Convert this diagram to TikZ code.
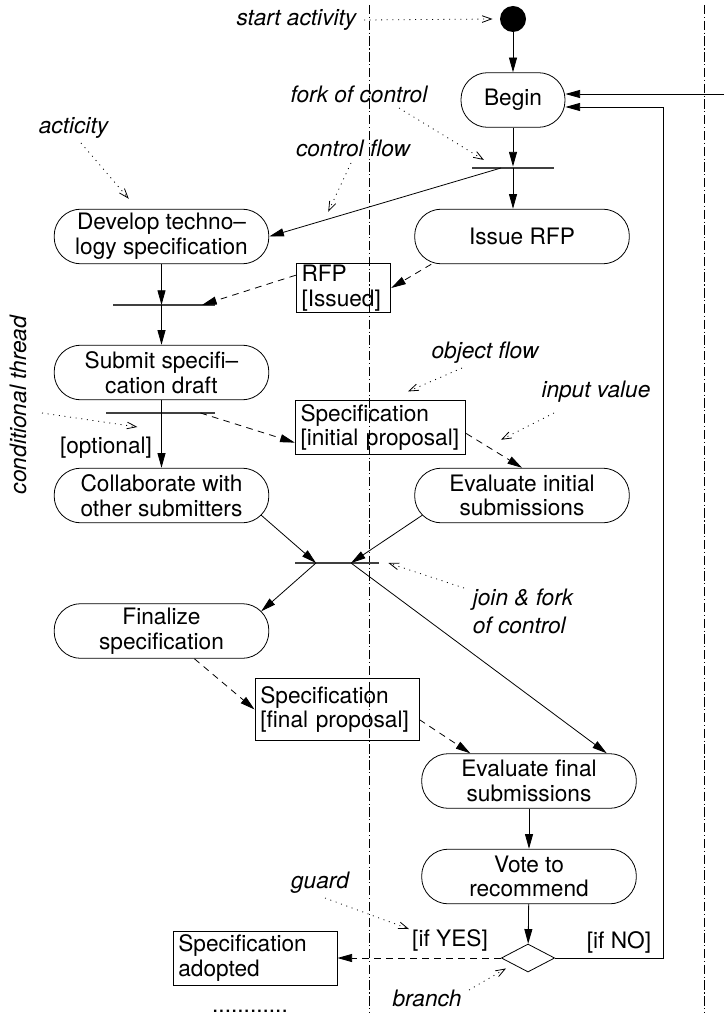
\documentclass[tikz,border=0pt]{standalone}
\usepackage{fontspec}
\setmainfont{TeX Gyre Heros}
\usetikzlibrary{shapes.geometric,arrows.meta,calc}

\begin{document}
\begin{tikzpicture}[x=0.75pt, y=-0.75pt, line width=0.6pt,
    font=\fontsize{17pt}{18.5pt}\selectfont,
    act/.style={draw, rounded corners=20pt, minimum width=161pt,
      minimum height=41pt, align=center, inner sep=0pt},
    obj/.style={draw, align=left, inner xsep=4pt, inner ysep=1pt},
    bar/.style={fill=black!75, minimum height=1.6pt, inner sep=0pt},
    note/.style={font=\fontsize{17pt}{21pt}\selectfont\itshape,
      inner sep=1pt},
    flow/.style={-{Triangle[length=11pt,width=6pt]}},
    objflow/.style={flow, dash pattern=on 5pt off 4pt},
    hint/.style={-{Straight Barb[length=7pt,width=5pt]},
      dash pattern=on 0.75pt off 3.5pt},
    lane/.style={line width=0.5pt, dash pattern=on 7pt off 2pt on 0.8pt off 2pt}]
  \useasboundingbox (0,0) rectangle (724,1019);
  % swimlanes
  \draw[lane] (369,5) -- (369,1012);
  \draw[lane] (704,5) -- (704,1012);
  % activities and objects
  \node[circle, fill, minimum size=19.5pt, inner sep=0pt] (start) at (513,19) {};
  \node[act, minimum width=78pt] (begin) at (513,100) {Begin};
  \node[bar, minimum width=61pt] (fork) at (513,168) {};
  \node[act] (develop) at (161.5,236.5) {Develop techno--\\logy specification};
  \node[act] (issue) at (522,236.5) {Issue RFP};
  \node[obj, text width=63pt, minimum height=36pt] (rfp) at (343.5,288)
    {RFP\\\mbox{[Issued]}};
  \node[bar, minimum width=76.5pt] (merge) at (164,305) {};
  \node[act] (submit) at (161.5,372.5) {Submit specifi--\\cation draft};
  \node[bar, minimum width=82pt] (cond) at (160.5,413) {};
  \node[obj, text width=120pt, minimum height=40pt] (spec1) at (380.5,427.5)
    {Specification\\\mbox{[initial proposal]}};
  \node[act] (collab) at (161.5,495.5) {Collaborate with\\other submitters};
  \node[act] (evalinit) at (522,495.5) {Evaluate initial\\submissions};
  \node[bar, minimum width=63pt] (sync) at (337,563) {};
  \node[act] (final) at (161.5,631) {Finalize\\specification};
  \node[obj, text width=115pt, minimum height=46pt] (spec2) at (337,709.5)
    {Specification\\\mbox{[final proposal]}};
  \node[act] (evalfinal) at (529,781) {Evaluate final\\submissions};
  \node[act] (vote) at (529,876.5) {Vote to\\recommend};
  \node[diamond, draw, minimum width=40pt, minimum height=21pt, inner sep=0pt]
    (branch) at (528,958) {};
  \node[obj, text width=115pt, minimum height=40.5pt] (adopted) at (255,958)
    {Specification\\adopted};
  % guards
  \node (optional) at (106,448) {[optional]};
  \node (ifyes) at (450,940) {[if YES]};
  \node (ifno) at (619,942) {[if NO]};
  \node (more) at (250,1011) {............};
  % notes
  \node[note, anchor=east] (nstart) at (358,20) {start activity};
  \node[note] (nfork) at (359,94) {fork of control};
  \node[note] (nact) at (73.5,128) {acticity};
  \node[note] (nflow) at (353,148) {control flow};
  \node[note] (nobj) at (485,353) {object flow};
  \node[note] (ninput) at (596,392) {input value};
  \node[note, rotate=90] (ncond) at (18,405) {conditional thread};
  \node[note, align=left] (njoin) at (523,611) {join \& fork\\of control};
  \node[note] (nguard) at (320,883) {guard};
  \node[note] (nbranch) at (427,998) {branch};
  % control flow
  \draw[flow] (start) -- (begin);
  \draw[flow] (begin) -- (fork);
  \draw[flow] (fork.center) -- (fork.center |- issue.north);
  \draw[flow] ($(fork)+(-12,0)$) -- (develop.east);
  \draw[flow] (develop) -- (develop |- merge);
  \draw[flow] (submit.north |- merge) -- (submit.north);
  \draw[flow] (submit) -- (collab);
  \draw[flow] ($(collab.south east)+(-8,-8)$) -- ($(sync)+(-21,0)$);
  \draw[flow] ($(evalinit.south west)+(8,-8)$) -- ($(sync)+(14,0)$);
  \draw[flow] ($(sync)+(-21,0)$) -- ($(final.north east)+(-8,8)$);
  \draw[flow] ($(sync)+(14,0)$) -- ($(evalfinal.north east)+(-30,0)$);
  \draw[flow] (evalfinal) -- (vote);
  \draw[flow] (vote) -- (branch);
  \coordinate (loop) at (663,107);
  \coordinate (back) at (724,94);
  \draw[flow] (branch.east) -| (loop) -- (begin.east |- loop);
  \draw[flow] (back) -- (begin.east |- back);
  % object flow
  \draw[objflow] ($(issue.south west)+(17,0)$) -- (rfp.east);
  \draw[objflow] (rfp.165) -- ($(merge)+(38,0)$);
  \draw[objflow] ($(cond)+(40,0)$) -- (spec1.190);
  \draw[objflow] (spec1.-4) -- (evalinit.north);
  \draw[objflow] (final) -- (spec2.west);
  \draw[objflow] (spec2.-7) -- ($(evalfinal.north west)+(49,0)$);
  \draw[objflow] (branch.west) -- (adopted.east);
  % note pointers
  \draw[hint] ($(nstart.east)+(6,0)$) -- ($(start.west)+(-7,0)$);
  \draw[hint] ($(nfork)+(40,14)$) -- ($(fork.west)+(12,-8)$);
  \draw[hint] ($(nact)+(7.5,15)$) -- ($(develop.north west)+(75,-10)$);
  \draw[hint] ($(nflow)+(-2,15)$) -- ($(develop.north east)+(59,3)$);
  \draw[hint] ($(nobj)+(-23,15)$) -- ($(spec1.north)+(27.5,-9)$);
  \draw[hint] ($(ninput)+(-42,21)$) -- ($(evalinit.north)+(-21,-28)$);
  \draw[hint] ($(ncond)+(24,8)$) -- ($(cond.west)+(32,14)$);
  \draw[hint] ($(njoin)+(-59,-23)$) -- ($(sync.east)+(9,0)$);
  \draw[hint] ($(nguard)+(5,15)$) -- ($(ifyes)+(-41,-11)$);
  \draw[hint] ($(nbranch)+(42,-8)$) -- ($(branch.south)+(-22,-4)$);
\end{tikzpicture}
\end{document}
